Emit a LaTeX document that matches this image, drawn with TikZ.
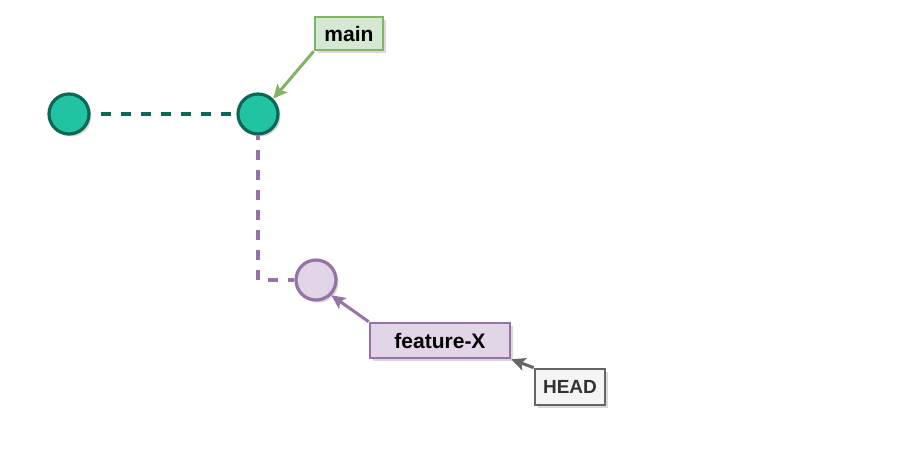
\documentclass[tikz,border=0pt]{standalone}
\usepackage{fontspec}
\setmainfont{Liberation Sans}
\usetikzlibrary{shadows,arrows.meta}
\definecolor{tealfill}{HTML}{21C3A3}
\definecolor{tealline}{HTML}{0E6655}
\definecolor{greenfill}{HTML}{D5E8D4}
\definecolor{greenline}{HTML}{82B366}
\definecolor{purfill}{HTML}{E1D5E7}
\definecolor{purline}{HTML}{9673A6}
\definecolor{grayfill}{HTML}{F5F5F5}
\definecolor{grayline}{HTML}{666666}
\tikzset{
  shad/.style={drop shadow={opacity=0.3,shadow xshift=2.5pt,shadow yshift=-2.5pt}},
  commit/.style={circle,minimum size=40pt,inner sep=0pt,line width=3.2pt,shad},
  mcommit/.style={commit,fill=tealfill,draw=tealline},
  fcommit/.style={commit,fill=purfill,draw=purline},
  label/.style={rectangle,line width=2.6pt,inner sep=0pt,shad,font=\bfseries\fontsize{21}{24}\selectfont},
  ptr/.style={line width=3pt,-{Stealth[length=14pt,width=13pt,inset=3pt]}},
  link/.style={line width=3.6pt,dash pattern=on 10pt off 10pt,dash phase=10pt},
}
\begin{document}
\begin{tikzpicture}[x=1pt,y=-1pt]
\useasboundingbox (0,0) rectangle (900,450);
\node[mcommit] (c1) at (69,114) {};
\node[mcommit] (c2) at (258,114) {};
\node[fcommit] (c3) at (316,280) {};
\node[label,fill=greenfill,draw=greenline,minimum width=68pt,minimum height=33pt] (main) at (349,33.5) {main};
\node[label,fill=purfill,draw=purline,minimum width=140pt,minimum height=35pt] (feat) at (440,340.5) {feature-X};
\node[label,fill=grayfill,draw=grayline,minimum width=70pt,minimum height=36pt,text=black!80,font=\bfseries\fontsize{19}{22}\selectfont] (head) at (570,387) {HEAD};
\coordinate (bend) at (258,280);
\draw[link,tealline] (c1.east) -- (c2.west);
\draw[link,purline,dash phase=6pt] (c2.south) -- (bend) -- (c3.west);
\draw[ptr,greenline] (main.south west) -- (c2.north east);
\draw[ptr,purline] (feat.north west) -- (c3.south east);
\draw[ptr,grayline] (head.north west) -- (feat.south east);
\end{tikzpicture}
\end{document}
